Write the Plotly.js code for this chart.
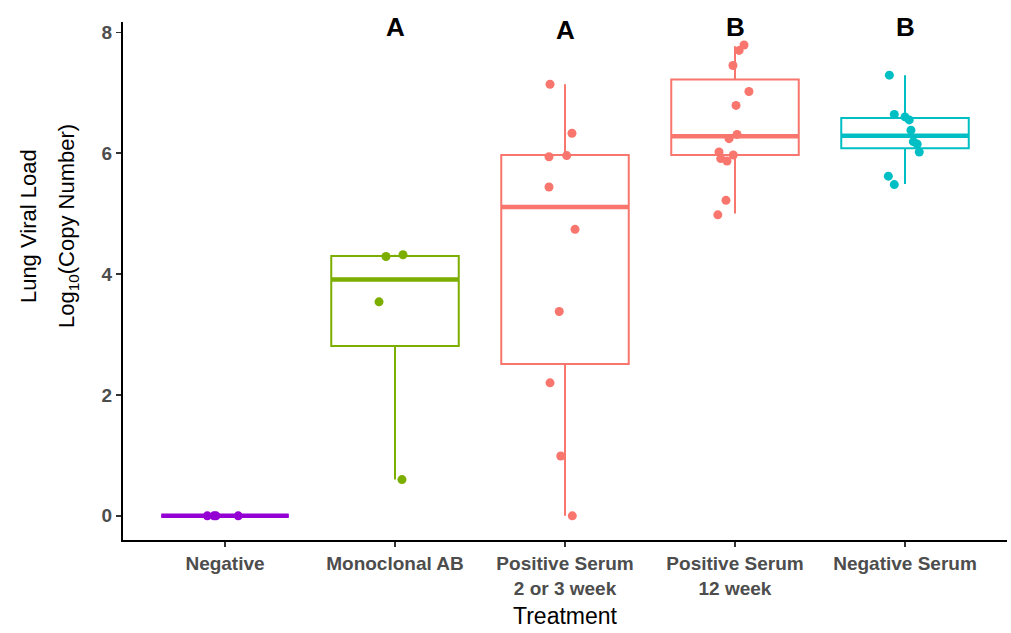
<!DOCTYPE html>
<html>
<head>
<meta charset="utf-8">
<script src="https://cdn.plot.ly/plotly-3.0.1.min.js"></script>
<style>html,body{margin:0;padding:0;background:#fff;}#chart{width:1011px;height:633px;}</style>
</head>
<body>
<div id="chart"></div>
<script>
// ---- data ----
const categories = ["Negative", "Monoclonal AB", "Positive Serum<br>2 or 3 week", "Positive Serum<br>12 week", "Negative Serum"];
const q1Vals = [0, 2.81, 2.51, 5.97, 6.08];
const medianVals = [0, 3.91, 5.11, 6.28, 6.29];
const q3Vals = [0, 4.30, 5.97, 7.22, 6.58];
const lowerWhisker = [0, 0.60, 0.00, 5.00, 5.49];
const upperWhisker = [0, 4.32, 7.14, 7.77, 7.29];

const negativeY = [0, 0, 0, 0];
const negativeJitter = [-0.104, -0.065, -0.053, 0.078];
const monoclonalY = [4.29, 4.32, 3.54, 0.60];
const monoclonalJitter = [-0.053, 0.047, -0.094, 0.041];
const posSerum23Y = [7.14, 6.33, 5.94, 5.96, 5.44, 4.74, 3.38, 2.20, 0.99, 0.00];
const posSerum23Jitter = [-0.088, 0.041, -0.094, 0.010, -0.094, 0.059, -0.034, -0.088, -0.025, 0.043];
const posSerum12Y = [7.79, 7.70, 7.45, 7.02, 6.79, 6.31, 6.24, 6.02, 5.91, 5.87, 5.97, 5.22, 4.98];
const posSerum12Jitter = [0.053, 0.024, -0.012, 0.082, 0.006, 0.012, -0.035, -0.094, -0.084, -0.047, -0.010, -0.053, -0.101];
const negSerumY = [7.29, 6.64, 6.60, 6.55, 6.38, 6.19, 6.15, 6.02, 5.62, 5.48];
const negSerumJitter = [-0.092, -0.063, 0.000, 0.025, 0.035, 0.049, 0.072, 0.084, -0.098, -0.063];

const groupLetters = ["", "A", "A", "B", "B"];
const letterY = [null, 8.08, 8.03, 8.08, 8.08];

// ---- styling ----
const colors = ["#9400D3", "#7CAE00", "#F8766D", "#F8766D", "#00BFC4"];
const boxWidth = 0.75;
const pointsY = [negativeY, monoclonalY, posSerum23Y, posSerum12Y, negSerumY];
const pointsJ = [negativeJitter, monoclonalJitter, posSerum23Jitter, posSerum12Jitter, negSerumJitter];

const traces = [];
categories.forEach((c, i) => {
  traces.push({
    type: 'box', x: [i], q1: [q1Vals[i]], median: [medianVals[i]], q3: [q3Vals[i]],
    lowerfence: [lowerWhisker[i]], upperfence: [upperWhisker[i]],
    width: boxWidth, whiskerwidth: 0, boxpoints: false,
    line: {color: colors[i], width: 2}, fillcolor: 'rgba(0,0,0,0)',
    showlegend: false, hoverinfo: 'skip'
  });
});
categories.forEach((c, i) => {
  traces.push({
    type: 'scatter', mode: 'lines',
    x: [i - boxWidth / 2, i + boxWidth / 2], y: [medianVals[i], medianVals[i]],
    line: {color: colors[i], width: 4.5}, showlegend: false, hoverinfo: 'skip'
  });
});
categories.forEach((c, i) => {
  traces.push({
    type: 'scatter', mode: 'markers',
    x: pointsJ[i].map(j => i + j), y: pointsY[i],
    marker: {color: colors[i], size: 9}, showlegend: false, hoverinfo: 'skip'
  });
});

const annotations = [];
groupLetters.forEach((t, i) => {
  if (t) annotations.push({x: i, y: letterY[i], xref: 'x', yref: 'y', text: '<b>' + t + '</b>',
    showarrow: false, font: {family: 'Liberation Sans, Arial', size: 26, color: '#000'}});
});
annotations.push({xref: 'paper', yref: 'paper', x: 0, y: 0.606, xanchor: 'center', yanchor: 'middle', xshift: -95, textangle: -90,
  text: 'Lung Viral Load', showarrow: false, font: {family: 'Liberation Sans, Arial', size: 22, color: '#000'}});
annotations.push({xref: 'paper', yref: 'paper', x: 0, y: 0.606, xanchor: 'center', yanchor: 'middle', xshift: -55, textangle: -90,
  text: 'Log<sub>10</sub>(Copy Number)', showarrow: false, font: {family: 'Liberation Sans, Arial', size: 22, color: '#000'}});

const layout = {
  width: 1011, height: 633,
  margin: {l: 123, r: 4, t: 22, b: 93},
  paper_bgcolor: '#fff', plot_bgcolor: '#fff',
  showlegend: false, boxmode: 'overlay',
  font: {family: 'Liberation Sans, Arial', color: '#000'},
  xaxis: {
    range: [-0.6, 4.6], tickvals: [0, 1, 2, 3, 4], ticktext: categories.map(t => '<b>' + t + '</b>'),
    showline: true, linecolor: '#000', linewidth: 2, ticks: 'outside', ticklen: 5, tickwidth: 1.5, tickcolor: '#333',
    showgrid: false, zeroline: false,
    tickfont: {family: 'Liberation Sans, Arial', size: 19, color: '#4D4D4D'},
    title: {text: 'Treatment', font: {family: 'Liberation Sans, Arial', size: 23, color: '#000'}, standoff: 10}
  },
  yaxis: {
    range: [-0.4, 8.17], tickvals: [0, 2, 4, 6, 8], ticktext: ['<b>0</b>', '<b>2</b>', '<b>4</b>', '<b>6</b>', '<b>8</b>'],
    showline: true, linecolor: '#000', linewidth: 2, ticks: 'outside', ticklen: 5, tickwidth: 1.5, tickcolor: '#333',
    showgrid: false, zeroline: false,
    tickfont: {family: 'Liberation Sans, Arial', size: 19, color: '#4D4D4D'}
  },
  annotations: annotations
};

Plotly.newPlot('chart', traces, layout, {displayModeBar: false, staticPlot: true});
</script>
</body>
</html>
